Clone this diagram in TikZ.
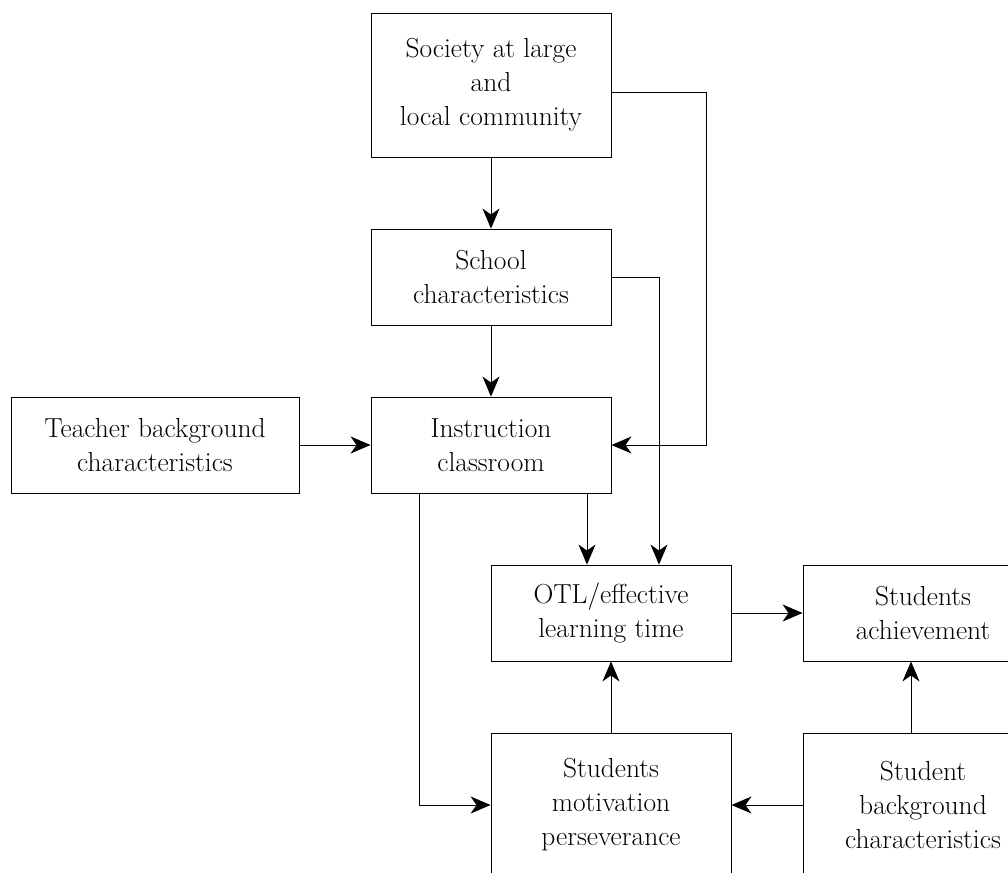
\documentclass[tikz,border=0pt]{standalone}
\usetikzlibrary{arrows.meta}
\begin{document}
\begin{tikzpicture}[x=1pt,y=-1pt,
  box/.style={draw,line width=0.9pt,inner sep=0pt,align=center,
    font=\fontsize{27.5}{34}\selectfont},
  link/.style={line width=0.9pt,-{Stealth[length=20pt,width=17pt,inset=6pt]}}]
\useasboundingbox (0,0) rectangle (1008,872);
\clip (0,0) rectangle (1008,872);
% boxes, placed by their centres
\node[box,minimum width=240pt,minimum height=144pt] (soc) at (491,85) {Society at large\\and\\local community};
\node[box,minimum width=240pt,minimum height=96pt] (sch) at (491,277) {School\\characteristics};
\node[box,minimum width=288pt,minimum height=96pt] (tea) at (155,445) {Teacher background\\characteristics};
\node[box,minimum width=240pt,minimum height=96pt] (ins) at (491,445) {Instruction\\classroom};
\node[box,minimum width=240pt,minimum height=96pt] (otl) at (611,613) {OTL/effective\\learning time};
\node[box,minimum width=240pt,minimum height=96pt] (ach) at (923,613) {Students\\achievement};
\node[box,minimum width=240pt,minimum height=144pt] (mot) at (611,805) {Students\\motivation\\perseverance};
\node[box,minimum width=240pt,minimum height=144pt] (bg) at (923,805) {Student\\background\\characteristics};
% connectors
\draw[link] (soc.south) -- (sch.north);
\draw[link] (sch.south) -- (ins.north);
\draw[link] (tea.east) -- (ins.west);
\draw[link] (soc.east |- 0,92) -- (706,92) -- (706,445) -- (ins.east);
\draw[link] (sch.east) -- (659,277) -- (659,0 |- otl.north);
\draw[link] (587,0 |- ins.south) -- (587,0 |- otl.north);
\draw[link] (419,0 |- ins.south) -- (419,805) -- (mot.west);
\draw[link] (otl.east) -- (ach.west);
\draw[link] (mot.north) -- (otl.south);
\draw[link] (911,0 |- bg.north) -- (911,0 |- ach.south);
\draw[link] (bg.west) -- (mot.east);
\end{tikzpicture}
\end{document}
